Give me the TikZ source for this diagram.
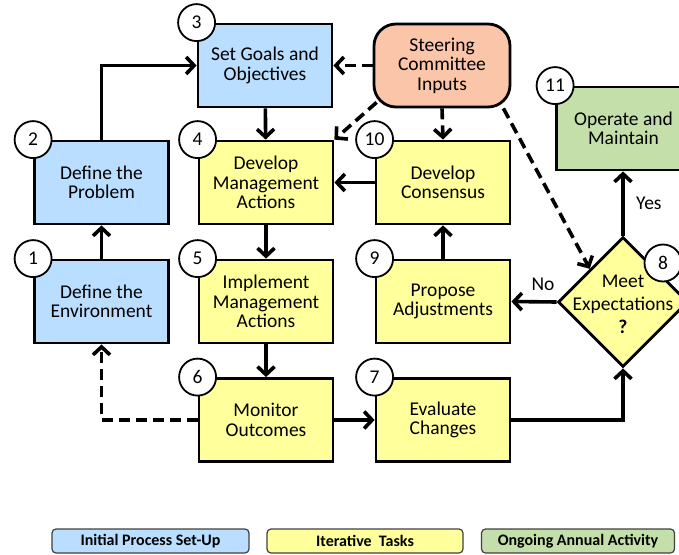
\documentclass[tikz,border=0pt]{standalone}
\usepackage{fontspec}
\setmainfont{Carlito}
\usepackage{tikz}
\usetikzlibrary{arrows.meta,shapes.geometric,calc}

\definecolor{setupblue}{RGB}{185,222,255}
\definecolor{iteryellow}{RGB}{255,255,155}
\definecolor{steerorange}{RGB}{250,197,168}
\definecolor{ongoinggreen}{RGB}{196,223,170}

\tikzset{
	task/.style={draw, line width=2.8pt, minimum width=134pt, minimum height=83pt, align=center,
		font=\fontsize{19.5}{19.5}\selectfont, inner sep=0pt},
	numcirc/.style={draw, circle, fill=white, line width=1.8pt, minimum size=37pt, inner sep=0pt,
		font=\fontsize{19.5}{19.5}\selectfont},
	arr/.style={line width=3.6pt, -{Straight Barb[length=8pt,width=17pt]}},
	darr/.style={arr, dash pattern=on 11pt off 6pt},
	legendbox/.style={draw=black!75, line width=1.2pt, rounded corners=4pt, minimum height=24pt,
		font=\fontsize{16}{16}\selectfont\bfseries}
}

\begin{document}
\begin{tikzpicture}[x=1pt,y=-1pt]
	\useasboundingbox (0,0) rectangle (679,554);
	\clip (0,0) rectangle (679,554);

	% blue column
	\node[task, fill=setupblue] (b2) at (101.5,182.5) {Define the\\Problem};
	\node[task, fill=setupblue] (b1) at (101.5,301.5) {Define the\\Environment};
	\node[task, fill=setupblue] (b3) at (265,65.5) {Set Goals and\\Objectives};
	% yellow tasks
	\node[task, fill=iteryellow] (b4) at (266,182.5) {Develop\\Management\\Actions};
	\node[task, fill=iteryellow] (b5) at (266,301.5) {Implement\\Management\\Actions};
	\node[task, fill=iteryellow] (b6) at (266,420) {Monitor\\Outcomes};
	\node[task, fill=iteryellow] (b7) at (443,420) {Evaluate\\Changes};
	\node[task, fill=iteryellow] (b9) at (443,301.5) {Propose\\Adjustments};
	\node[task, fill=iteryellow] (b10) at (443,182.5) {Develop\\Consensus};
	\node[task, fill=steerorange, rounded corners=22pt, minimum width=136pt] (bS) at (442,65.5) {Steering\\Committee\\Inputs};
	\node[task, fill=ongoinggreen] (b11) at (623.5,128.5) {Operate and\\Maintain};
	% decision
	\node[draw, diamond, fill=iteryellow, line width=2.8pt, minimum width=130pt, minimum height=130pt, inner sep=0pt] (d8) at (623,302) {};
	\node[align=center, font=\fontsize{19.5}{23}\selectfont] (d8txt) at (623,304) {Meet\\Expectations\\\textbf{?}};

	% solid flow
	\draw[arr] (b2.north) |- (b3.west);
	\draw[arr] (b3) -- (b4);
	\draw[arr] (b4) -- (b5);
	\draw[arr] (b5) -- (b6);
	\draw[arr] (b6) -- (b7);
	\draw[arr] (b1) -- (b2);
	\draw[arr] (b9) -- (b10);
	\draw[arr] (b10) -- (b4);
	\draw[arr] (b7.east) -| (d8.south);
	\draw[arr] (d8.west) -- (b9.east) node[pos=0.3, above=6pt, font=\fontsize{19.5}{19.5}\selectfont] (lno) {No};
	\draw[arr] (d8.north) -- (d8.north |- b11.south) node[midway, right=8pt, font=\fontsize{19.5}{19.5}\selectfont] (lyes) {Yes};
	% dashed inputs
	\draw[darr] (bS.west) -- (b3.east);
	\draw[darr] ([shift={(4,-6)}]bS.south west) -- (b4.north east);
	\draw[darr] (bS.south) -- (b10.north);
	\draw[darr] ([xshift=-8pt]bS.south east) -- (d8.north west);
	\draw[darr] (b6.west) -| (b1.south);

	% step numbers
	\foreach \b/\n in {b1/1,b2/2,b3/3,b4/4,b5/5,b6/6,b7/7,b9/9,b10/10,b11/11}{
		\node[numcirc] (c\n) at (\b.north west) {\n};}
	\node[numcirc] (c8) at (663,263) {8};

	% legend
	\node[legendbox, fill=setupblue, minimum width=197pt] (lg1) at (150.5,541) {Initial Process Set-Up};
	\node[legendbox, fill=iteryellow, minimum width=196pt] (lg2) at (365,541) {Iterative~~Tasks};
	\node[legendbox, fill=ongoinggreen, minimum width=193pt] (lg3) at (578,541) {Ongoing Annual Activity};
\end{tikzpicture}
\end{document}
